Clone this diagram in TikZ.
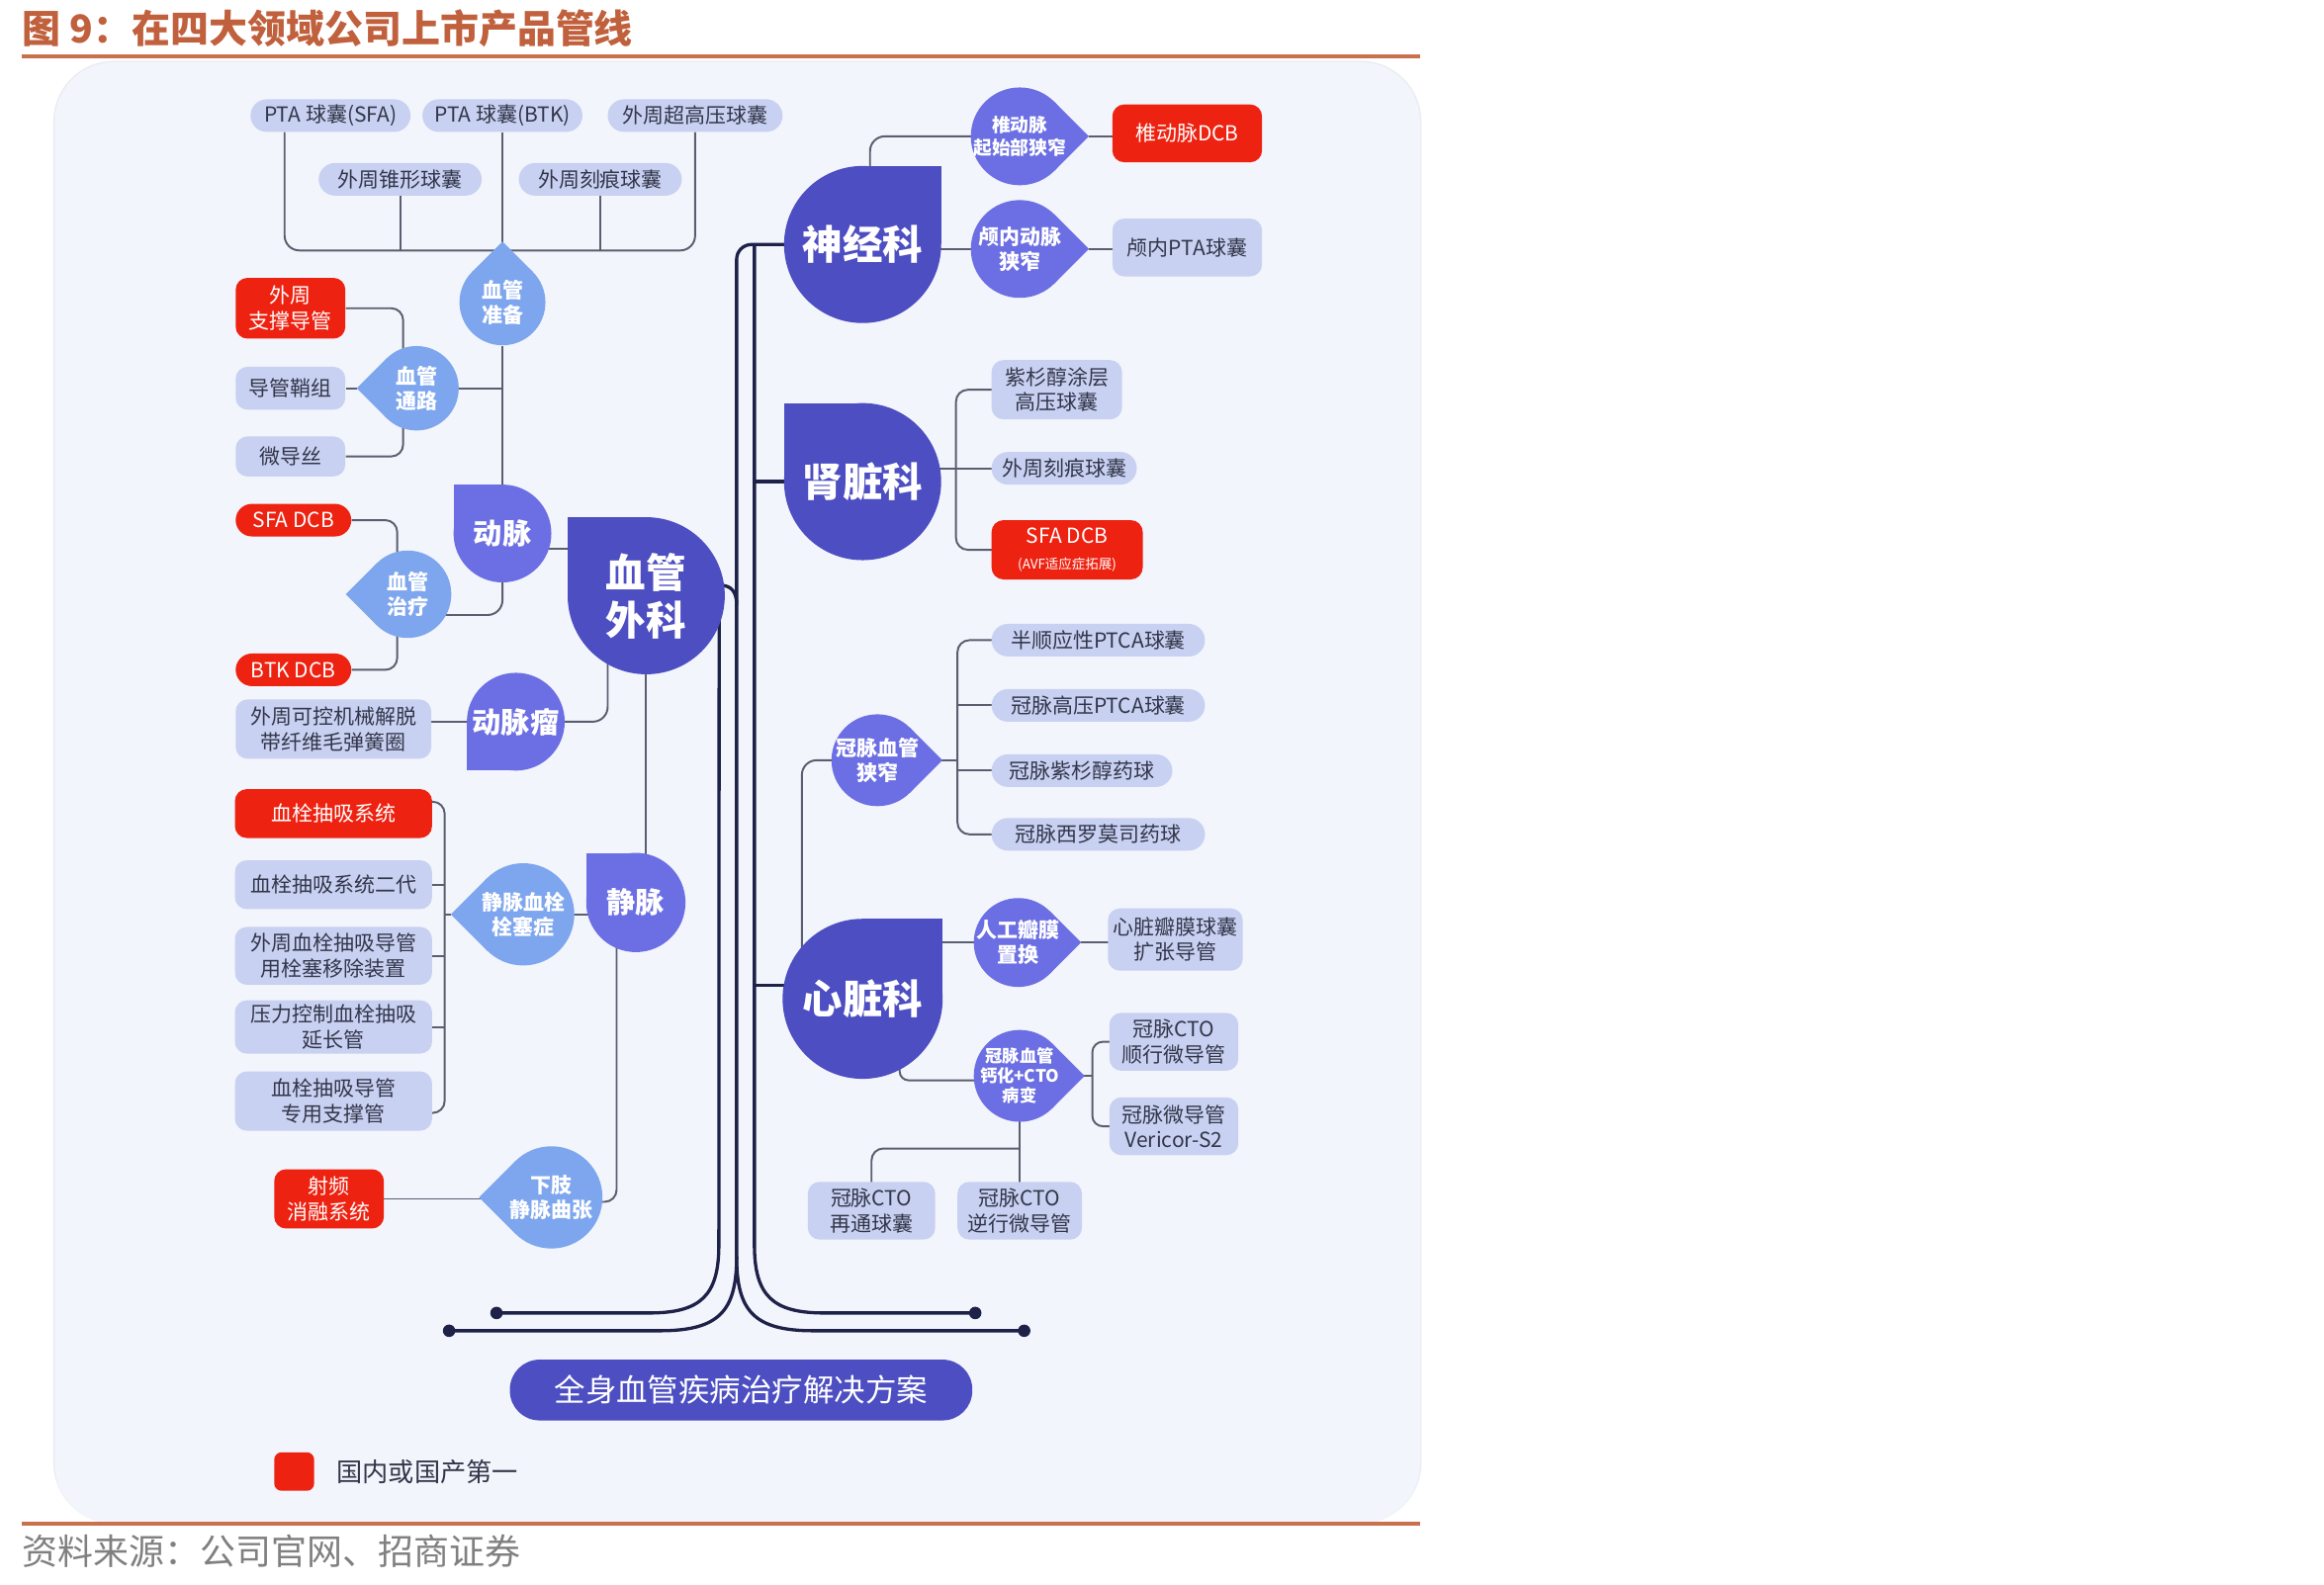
\documentclass[tikz,border=0pt]{standalone}
\usepackage{fontspec}
\setmainfont{Noto Sans CJK SC}
\usetikzlibrary{calc}
\definecolor{panelc}{HTML}{F3F5FC}
\definecolor{rulec}{HTML}{C8714C}
\definecolor{titlec}{HTML}{C0603C}
\definecolor{deptc}{HTML}{4C4EC2}
\definecolor{violc}{HTML}{6C6FE3}
\definecolor{lbluec}{HTML}{7EA6EE}
\definecolor{pillc}{HTML}{C8D1F1}
\definecolor{redc}{HTML}{EE2211}
\definecolor{connc}{HTML}{5A5E6E}
\definecolor{trunkc}{HTML}{1E2148}
\definecolor{txtc}{HTML}{33364A}
\definecolor{srcc}{HTML}{808080}
\definecolor{shadc}{HTML}{EAECF2}
\pgfdeclarelayer{bg}\pgfdeclarelayer{lines}\pgfsetlayers{bg,lines,main}
\tikzset{
 pill/.style={rounded corners=8pt, fill=pillc, text=txtc, inner sep=0pt, align=center, font=\fontsize{14}{17}\selectfont},
 pillr/.style={pill, rounded corners=11pt},
 redpill/.style={pill, fill=redc, text=white},
 redpillr/.style={pillr, fill=redc, text=white},
 conn/.style={draw=connc, line width=1.3pt},
 trunk/.style={draw=trunkc, line width=2.2pt},
 droptext/.style={text=white, align=center, inner sep=0pt, font=\bfseries\fontsize{14}{16.5}\selectfont},
 fdept/.style={font=\bfseries\fontsize{27}{32}\selectfont},
 fsub/.style={font=\bfseries\fontsize{19.5}{22}\selectfont},
 fsm/.style={font=\bfseries\fontsize{14}{16.5}\selectfont},
 fxs/.style={font=\bfseries\fontsize{12.5}{15}\selectfont},
 fxxs/.style={font=\bfseries\fontsize{11.5}{13.5}\selectfont},
}
% name, x, y, r, angle of corner, colour, font style, text
\newcommand\mydrop[8]{%
  \fill[#6] (#2,#3) -- ++({#5-45}:#4) -- ++({#5+45}:#4) -- ++({#5+135}:#4) -- cycle;
  \node[circle, fill=#6, inner sep=0pt, minimum size={2*#4}] (#1) at (#2,#3) {};
  \path (#2,#3) ++(#5:{1.41421*#4}) coordinate (#1-t);
  \node[droptext, #7] (#1-l) at (#2,#3) {#8};
}
\begin{document}
\begin{tikzpicture}[x=1pt,y=1pt]
\useasboundingbox (0,0) rectangle (1568,-1069);
\begin{pgfonlayer}{bg}
\fill[white] (0,0) rectangle (1568,-1069);
\fill[shadc, rounded corners=41pt] (36,-41) rectangle (959,-1028);
\fill[panelc, rounded corners=40pt] (37,-42) rectangle (958,-1028);
\end{pgfonlayer}

% title, rules, source
\node[anchor=west, text=titlec, font=\bfseries\fontsize{26}{30}\selectfont, inner sep=0pt] (title) at (15,-19) {图 9：在四大领域公司上市产品管线};
\draw[rulec, line width=2.5pt] (15,-38) -- (958,-38);
\draw[rulec, line width=2.5pt] (15,-1028) -- (958,-1028);
\node[anchor=west, text=srcc, font=\fontsize{24}{28}\selectfont, inner sep=0pt] (src) at (15,-1047) {资料来源：公司官网、招商证券};

% drops
\mydrop{d1}{339}{-204}{29}{90}{lbluec}{fsm}{血管\\准备}
\mydrop{d2}{281}{-262}{28.5}{180}{lbluec}{fsm}{血管\\通路}
\mydrop{a1}{339}{-360}{33}{135}{violc}{fsub}{动脉}
\mydrop{d3}{275}{-401}{29.5}{180}{lbluec}{fsm}{血管\\治疗}
\mydrop{v1}{436}{-402}{53}{135}{deptc}{fdept}{血管\\外科}
\mydrop{a2}{348}{-487}{33}{225}{violc}{fsub}{动脉瘤}
\mydrop{a3}{429}{-609}{33.5}{135}{violc}{fsub}{静脉}
\mydrop{d4}{353}{-617}{34.5}{180}{lbluec}{fsm}{静脉血栓\\栓塞症}
\mydrop{d5}{372}{-808}{34.5}{180}{lbluec}{fsm}{下肢\\静脉曲张}
\mydrop{n1}{582}{-165}{53}{45}{deptc}{fdept}{神经科}
\mydrop{m1}{688}{-92}{33}{0}{violc}{fxs}{椎动脉\\起始部狭窄}
\mydrop{m2}{688}{-168}{33}{0}{violc}{fsm}{颅内动脉\\狭窄}
\mydrop{k1}{582}{-325}{53}{135}{deptc}{fdept}{肾脏科}
\mydrop{d6}{592}{-513}{31}{0}{violc}{fsm}{冠脉血管\\狭窄}
\mydrop{c1}{582}{-674}{54}{45}{deptc}{fdept}{心脏科}
\mydrop{m3}{687}{-636}{30}{0}{violc}{fsm}{人工瓣膜\\置换}
\mydrop{m4}{688}{-726}{31}{0}{violc}{fxxs}{冠脉血管\\钙化+CTO\\病变}

% pills, left
\node[pillr, minimum width=108pt, minimum height=22pt] (p1) at (223,-78) {PTA 球囊(SFA)};
\node[pillr, minimum width=108pt, minimum height=22pt] (p2) at (339,-78) {PTA 球囊(BTK)};
\node[pillr, minimum width=118pt, minimum height=22pt] (p3) at (469,-78) {外周超高压球囊};
\node[pillr, minimum width=110pt, minimum height=22pt] (p4) at (270,-121) {外周锥形球囊};
\node[pillr, minimum width=110pt, minimum height=22pt] (p5) at (405,-121) {外周刻痕球囊};
\node[redpill, minimum width=74pt, minimum height=41pt] (r1) at (196,-208) {外周\\支撑导管};
\node[pill, minimum width=74pt, minimum height=29pt] (q1) at (196,-262) {导管鞘组};
\node[pill, minimum width=74pt, minimum height=27pt] (q2) at (196,-308) {微导丝};
\node[redpillr, minimum width=78pt, minimum height=22pt] (r2) at (198,-351) {SFA DCB};
\node[redpillr, minimum width=78pt, minimum height=22pt] (r3) at (198,-452) {BTK DCB};
\node[pill, minimum width=132pt, minimum height=40pt] (q3) at (225,-492) {外周可控机械解脱\\带纤维毛弹簧圈};
\node[redpill, minimum width=133pt, minimum height=33pt] (r4) at (225,-549) {血栓抽吸系统};
\node[pill, minimum width=133pt, minimum height=33pt] (q4) at (225,-597) {血栓抽吸系统二代};
\node[pill, minimum width=133pt, minimum height=39pt] (q5) at (225,-645) {外周血栓抽吸导管\\用栓塞移除装置};
\node[pill, minimum width=133pt, minimum height=36pt] (q6) at (225,-693) {压力控制血栓抽吸\\延长管};
\node[pill, minimum width=133pt, minimum height=40pt] (q7) at (225,-743) {血栓抽吸导管\\专用支撑管};
\node[redpill, minimum width=74pt, minimum height=40pt] (r5) at (222,-809) {射频\\消融系统};

% pills, right
\node[redpill, minimum width=101pt, minimum height=39pt] (r6) at (801,-90) {椎动脉DCB};
\node[pill, minimum width=101pt, minimum height=39pt] (q8) at (801,-167) {颅内PTA球囊};
\node[pill, minimum width=88pt, minimum height=40pt] (q9) at (713,-263) {紫杉醇涂层\\高压球囊};
\node[pillr, minimum width=98pt, minimum height=22pt] (q10) at (718,-316) {外周刻痕球囊};
\node[redpill, minimum width=102pt, minimum height=40pt] (r7) at (720,-371) {SFA DCB\\{\fontsize{9}{11}\selectfont (AVF适应症拓展)}};
\node[pillr, minimum width=144pt, minimum height=22pt] (q11) at (741,-432) {半顺应性PTCA球囊};
\node[pillr, minimum width=144pt, minimum height=22pt] (q12) at (741,-476) {冠脉高压PTCA球囊};
\node[pillr, minimum width=122pt, minimum height=22pt] (q13) at (730,-520) {冠脉紫杉醇药球};
\node[pillr, minimum width=144pt, minimum height=22pt] (q14) at (741,-563) {冠脉西罗莫司药球};
\node[pill, minimum width=91pt, minimum height=42pt] (q15) at (793,-634) {心脏瓣膜球囊\\扩张导管};
\node[pill, minimum width=87pt, minimum height=39pt] (q16) at (792,-703) {冠脉CTO\\顺行微导管};
\node[pill, minimum width=87pt, minimum height=39pt] (q17) at (792,-760) {冠脉微导管\\Vericor-S2};
\node[pill, minimum width=86pt, minimum height=39pt] (q18) at (588,-817) {冠脉CTO\\再通球囊};
\node[pill, minimum width=84pt, minimum height=39pt] (q19) at (688,-817) {冠脉CTO\\逆行微导管};

% bottom button and legend
\node[fill=deptc, rounded corners=20pt, minimum width=312pt, minimum height=41pt, text=white, font=\fontsize{21}{24}\selectfont, inner sep=0pt] (bt) at (500,-938) {全身血管疾病治疗解决方案};
\node[fill=redc, rounded corners=5pt, minimum width=27pt, minimum height=26pt, inner sep=0pt] (lg) at (198.5,-993) {};
\node[anchor=west, text=txtc, font=\fontsize{17.5}{20}\selectfont, inner sep=0pt] (lgt) at (227,-993) {国内或国产第一};

% coordinates
\coordinate (b1) at (339,-169);
\coordinate (kt) at (300,-617);
\coordinate (kb) at (645,-316);
\coordinate (kc) at (646,-513);
\coordinate (kd) at (737,-726);
\coordinate (ke) at (688,-775);
\coordinate (tR) at (509,-165);
\coordinate (jk) at (509,-325);
\coordinate (jc) at (509,-665);
\coordinate (e1) at (335,-886);
\coordinate (e2) at (658,-886);
\coordinate (e3) at (303,-898);
\coordinate (e4) at (691,-898);

\begin{pgfonlayer}{lines}
% top bracket
\draw[conn, rounded corners=10pt] ([xshift=-31pt]p1.south) |- (b1) -| (p3.south);
\draw[conn] (p2.south) -- (b1);
\draw[conn] (p4.south) -- (p4.south |- b1);
\draw[conn] (p5.south) -- (p5.south |- b1);
% vascular access
\draw[conn, rounded corners=8pt] (r1.east) -| ([xshift=-9pt,yshift=-4pt]d2.north);
\draw[conn, rounded corners=8pt] (q2.east) -| ([xshift=-9pt,yshift=4pt]d2.south);
\draw[conn] (q1.east) -- (d2-t);
\draw[conn] (d2.east) -- (d2.east -| d1.south);
\draw[conn] (d1.south) -- (a1.center);
% treatment
\draw[conn, rounded corners=8pt] (r2.east) -| ([xshift=-7pt,yshift=-3pt]d3.north);
\draw[conn, rounded corners=8pt] (r3.east) -| ([xshift=-7pt,yshift=3pt]d3.south);
\draw[conn, rounded corners=10pt] ([xshift=-5pt,yshift=-14pt]d3.east) -| (a1.center);
\draw[conn] ([xshift=-3pt,yshift=-10pt]a1.east) -- ([yshift=-10pt]a1.east -| v1.center);
% aneurysm
\draw[conn] (q3.east |- a2.west) -- (a2.center);
\draw[conn, rounded corners=10pt] (a2.center) -| ([xshift=-26pt,yshift=15pt]v1.south);
% vein
\draw[conn] (v1.center) -- (v1.center |- a3.center);
\draw[conn] (d4.center) -- (d4.center -| a3.center);
\draw[conn, rounded corners=8pt] ([yshift=8pt]r4.east) -| (kt) |- ([yshift=-8pt]q7.east);
\foreach \n in {q4,q5,q6} \draw[conn] (\n.east) -- (\n.east -| kt);
\draw[conn] (d4-t) -- (kt);
\draw[conn] (r5.center) -- (r5.center -| d5.center);
\draw[conn, rounded corners=8pt] ([xshift=-13pt]a3.center) |- ([yshift=-3pt]d5.center);
% neurology
\draw[conn, rounded corners=10pt] ([xshift=5pt]n1.center) |- (m1.center);
\draw[conn] (n1.center |- m2.center) -- (m2.center);
\draw[conn] (m1-t) -- (m1-t -| r6.center);
\draw[conn] (m2-t) -- (m2-t -| q8.center);
% nephrology
\draw[conn] (k1.center |- q10.center) -- (q10.center);
\draw[conn, rounded corners=8pt] (q9.center) -| (kb) |- (r7.center);
% cardiology
\draw[conn, rounded corners=8pt] (q11.center) -| (kc) |- (q14.center);
\draw[conn] (q12.center) -- (q12.center -| kc);
\draw[conn] (q13.center) -- (q13.center -| kc);
\draw[conn] (d6.center) -- (kc);
\draw[conn, rounded corners=10pt] ([xshift=-41pt]c1.center) |- (d6.center);
\draw[conn] (c1.center |- m3.center) -- (m3.center);
\draw[conn] (m3-t) -- (m3-t -| q15.center);
\draw[conn, rounded corners=6pt] ([xshift=25pt]c1.center) |- ([yshift=-3pt]m4.center);
\draw[conn, rounded corners=7pt] (q16.center) -| (kd) |- (q17.center);
\draw[conn] (m4.center) -- (kd);
\draw[conn] (m4.center) -- (m4.center |- q19.center);
\draw[conn, rounded corners=8pt] (q18.center) |- (ke);
% trunk
\draw[trunk, rounded corners=10pt] (n1.center) -| (497,-848);
\draw[trunk] (tR) -- (509,-840) .. controls (509,-874) and (521,-886) .. (556,-886) -- (e2);
\draw[trunk] ([xshift=-4pt]v1.east) -- (485,-840) .. controls (485,-874) and (473,-886) .. (438,-886) -- (e1);
\draw[trunk] (497,-848) .. controls (497,-885) and (485,-898) .. (445,-898) -- (e3);
\draw[trunk] (497,-848) .. controls (497,-885) and (509,-898) .. (549,-898) -- (e4);
\draw[trunk] ([xshift=-3pt,yshift=7pt]v1.east) .. controls (493,-395) and (497,-399) .. (497,-408);
\draw[trunk] (jk) -- (jk -| k1.center);
\draw[trunk] (jc) -- (jc -| c1.center);
\foreach \e in {e1,e2,e3,e4} \fill[trunkc] (\e) circle (4.2);
\end{pgfonlayer}
\end{tikzpicture}
\end{document}
